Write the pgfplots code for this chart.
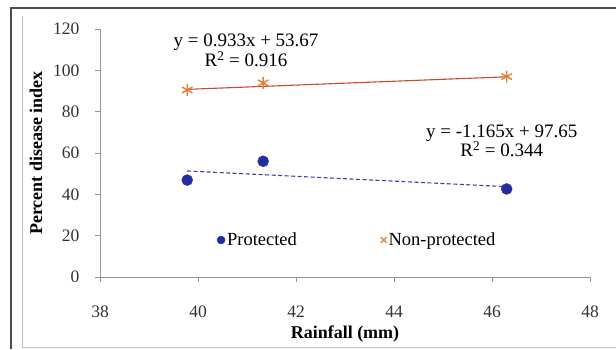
\documentclass[border=0pt]{standalone}
\usepackage{pgfplots}
\pgfplotsset{compat=1.18}
\usepackage{fontspec}
\setmainfont{Liberation Serif}
\definecolor{nporange}{RGB}{237,125,49}
\definecolor{npline}{RGB}{200,75,45}
\definecolor{pblue}{RGB}{35,45,160}
\definecolor{pline}{RGB}{60,60,175}
\definecolor{axgray}{RGB}{150,150,150}
\begin{document}
\begin{tikzpicture}[x=1pt,y=1pt]
\path[use as bounding box] (0,0) rectangle (616,349);
\draw[line width=1.6pt, color=black!70] (616,341) -- (11,341) -- (11,0);
\draw[line width=0.9pt, color=black!25] (22,333) -- (22,2) -- (616,2);
\begin{axis}[
  at={(100pt,72pt)}, anchor=south west,
  scale only axis, width=490pt, height=248pt,
  xmin=38, xmax=48, ymin=0, ymax=120,
  xtick={38,40,...,48}, ytick={0,20,...,120},
  axis x line*=bottom, axis y line*=left,
  axis line style={axgray, line width=0.8pt, -},
  tick style={axgray, line width=0.8pt},
  tick align=outside, major tick length=5pt,
  /pgf/number format/assume math mode=true,
  tick label style={font=\fontsize{17.5}{20}\selectfont, color=black!80},
  yticklabel style={xshift=-12pt},
  xticklabel style={yshift=-20pt},
  xlabel={\textbf{Rainfall (mm)}},
  ylabel={\textbf{Percent disease index}},
  label style={font=\fontsize{18}{20}\selectfont},
  xlabel style={yshift=-2pt},
  ylabel style={yshift=4pt},
  legend style={at={(axis cs:43.25,17.9)}, anchor=center, draw=none, fill=none,
    font=\fontsize{18.5}{20}\selectfont, legend columns=2,
    /tikz/every even column/.append style={column sep=82pt}},
  legend cell align=left,
  clip=false,
]
\addplot[forget plot, color=npline, line width=1.1pt] coordinates {(39.78,90.79) (46.3,96.87)};
\addplot[forget plot, color=pline, line width=1.1pt, dash pattern=on 4pt off 2.5pt] coordinates {(39.78,51.31) (46.3,43.71)};
\addplot[only marks, mark=*, mark size=5.5pt, color=pblue,
  legend image code/.code={\draw[pblue, fill=pblue, only marks, mark=*, mark size=4pt] plot coordinates {(0pt,0pt)};}]
  coordinates {(39.78,46.9) (41.33,56.0) (46.3,42.6)};
\addlegendentry{Protected}
\addplot[only marks, mark=asterisk, mark size=6pt, color=nporange, line width=1.4pt,
  legend image code/.code={\draw[nporange, line width=1.2pt, only marks, mark=x, mark size=4pt] plot coordinates {(0pt,0pt)};}]
  coordinates {(39.78,90.5) (41.33,93.9) (46.3,97.0)};
\addlegendentry{Non-protected}
\node[font=\fontsize{19}{19.5}\selectfont, align=center, inner sep=0pt] at (axis cs:40.98,109.6) {y = 0.933x + 53.67\\R\textsuperscript{2} = 0.916};
\node[font=\fontsize{19}{19.5}\selectfont, align=center, inner sep=0pt] at (axis cs:46.2,65.9) {y = -1.165x + 97.65\\R\textsuperscript{2} = 0.344};
\end{axis}
\end{tikzpicture}
\end{document}
